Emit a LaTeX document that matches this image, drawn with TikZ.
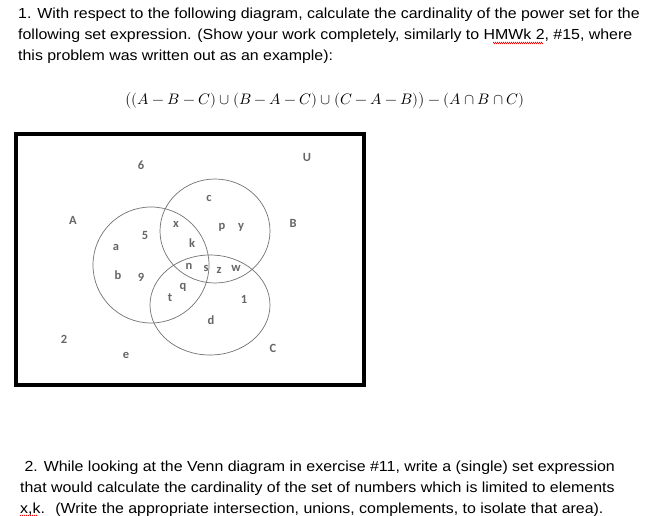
\documentclass[tikz,border=0pt]{standalone}
\usepackage{fontspec}
\setmainfont[FakeStretch=1.09]{Liberation Sans}
\newfontfamily\lblfont{Carlito}
\usepackage{unicode-math}
\setmathfont{Latin Modern Math}
\usetikzlibrary{decorations.pathmorphing}
\tikzset{
  txt/.style={anchor=base west,inner sep=0pt,font=\fontsize{14.6}{17}\selectfont},
  lbl/.style={inner sep=0pt,text=black!60,font=\lblfont\bfseries\fontsize{12.5}{13}\selectfont},
  venn/.style={draw=black!55,line width=0.7pt}
}
\begin{document}
\begin{tikzpicture}[x=1pt,y=-1pt]
\useasboundingbox (0,0) rectangle (645,516);
\fill[white] (0,0) rectangle (645,516);
\node[txt] (l1) at (18,19) {1. With respect to the following diagram, calculate the cardinality of the power set for the};
\node[txt] (l2) at (18,40) {following set expression. (Show your work completely, similarly to HMWk 2, \#15, where};
\node[txt] (l3) at (18,61) {this problem was written out as an example):};
\coordinate (w1) at (493,43);
\coordinate (w2) at (543,43);
\draw[red,line width=0.5pt,decorate,decoration={zigzag,amplitude=0.8pt,segment length=2pt}] (w1) -- (w2);
\node[inner sep=0pt,font=\fontsize{15.2}{17}\selectfont] (f) at (325,101) {$\bigl((A-B-C)\cup(B-A-C)\cup(C-A-B)\bigr)-(A\cap B\cap C)$};
\draw[line width=4pt] (16,134) rectangle (364,385);
\draw[venn] (151,265) ellipse [x radius=58,y radius=58];
\draw[venn] (215,231) ellipse [x radius=55,y radius=52];
\draw[venn] (210,305) ellipse [x radius=60,y radius=50];
\foreach \t/\x/\y in {6/141/165,U/307/157,c/209/198,A/73/220,x/176/224,p/222/227,y/241/227,B/293/223,5/145/235,k/192/243,a/116/247,n/189/266,s/206/268,z/219/270,w/236/268,b/118/275,9/141/277,q/183/287,t/170/298,1/244/299,d/211/320,2/64/339,C/273/348,e/126/355}
  \node[lbl] (n\t) at (\x,\y) {\t};
\node[txt] (m1) at (20,471) {\ 2. While looking at the Venn diagram in exercise \#11, write a (single) set expression};
\node[txt] (m2) at (20,492) {that would calculate the cardinality of the set of numbers which is limited to elements};
\node[txt] (m3) at (20,513) {x,k. \ (Write the appropriate intersection, unions, complements, to isolate that area).};
\coordinate (w3) at (20,516);
\coordinate (w4) at (38,516);
\draw[red,line width=0.5pt,decorate,decoration={zigzag,amplitude=0.8pt,segment length=2pt}] (w3) -- (w4);
\end{tikzpicture}
\end{document}
